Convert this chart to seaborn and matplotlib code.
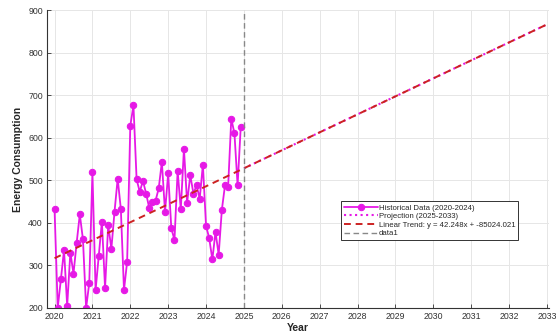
import numpy as np
import pandas as pd
import matplotlib
matplotlib.use("Agg")
import matplotlib.pyplot as plt
import seaborn as sns

# Monthly energy consumption, Jan 2020 .. Dec 2024
consumption = [
    432, 200, 267, 336, 205, 330, 281, 353, 420, 361, 200, 259,
    519, 242, 322, 403, 247, 395, 339, 426, 504, 433, 242, 309,
    628, 676, 502, 473, 499, 469, 435, 450, 452, 481, 543, 426,
    516, 387, 360, 522, 432, 574, 447, 512, 469, 488, 457, 537,
    393, 364, 314, 379, 325, 430, 488, 485, 645, 610, 488, 626,
]
start_year = 2020
end_year = 2033
split_year = 2025

# Fitted linear trend coefficients (as reported in the legend)
slope = 42.248
intercept = -85024.021

x_ticks = list(range(2020, 2034))
y_ticks = list(range(200, 1000, 100))

months = np.arange(len(consumption))
hist = pd.DataFrame({"Year": start_year + months / 12.0,
                     "Energy": consumption})
proj_years = np.arange(split_year, end_year + 1)
proj = pd.DataFrame({"Year": proj_years,
                     "Energy": slope * proj_years + intercept})
trend_years = np.array([start_year, end_year])
trend = pd.DataFrame({"Year": trend_years,
                      "Energy": slope * trend_years + intercept})

sns.set_theme(style="whitegrid")
plt.rcParams["font.family"] = ["Liberation Sans", "DejaVu Sans"]

fig = plt.figure(figsize=(5.56, 3.35), dpi=100)
ax = fig.add_axes([0.0845, 0.0806, 0.9025, 0.8894])

magenta = "#e619e6"
sns.lineplot(data=hist, x="Year", y="Energy", ax=ax, color=magenta,
             linewidth=1.3, marker="o", markersize=4.6, markeredgecolor=magenta,
             estimator=None, sort=False, label="Historical Data (2020-2024)")
sns.lineplot(data=proj, x="Year", y="Energy", ax=ax, color=magenta,
             linewidth=1.5, linestyle=":", estimator=None, sort=False,
             label="Projection (2025-2033)")
sns.lineplot(data=trend, x="Year", y="Energy", ax=ax, color="#cc2222",
             linewidth=1.4, linestyle=(0, (3.5, 2.5)), estimator=None, sort=False,
             label=f"Linear Trend: y = {slope:.3f}x + {intercept:.3f}")
ax.axvline(split_year, color="#888888", linewidth=1.0, linestyle=(0, (4, 2.5)),
           label="data1")

ax.set_xlim(2019.8, 2033.05)
ax.set_ylim(200, 900)
ax.set_xticks(x_ticks)
ax.set_yticks(y_ticks)

ax.grid(True, color="#e6e6e6", linewidth=0.7)
ax.set_facecolor("white")
for side in ("top", "right"):
    ax.spines[side].set_visible(False)
for side in ("left", "bottom"):
    ax.spines[side].set_visible(True)
    ax.spines[side].set_color("#333333")
    ax.spines[side].set_linewidth(0.8)

ax.tick_params(axis="both", direction="in", length=3, width=0.6,
               colors="#333333", labelsize=6.3, labelcolor="#333333", pad=3)
ax.tick_params(axis="x", bottom=True)
ax.tick_params(axis="y", left=True)

ax.set_xlabel("Year", fontsize=7.5, fontweight="bold", labelpad=1)
ax.set_ylabel("Energy Consumption", fontsize=7.5, fontweight="bold", labelpad=4)

leg = ax.legend(loc="lower left", bbox_to_anchor=(0.586, 0.228),
                fontsize=5.6, frameon=True, fancybox=False, framealpha=1,
                edgecolor="#333333", handlelength=4.4, handletextpad=0.1,
                borderpad=0.35, labelspacing=0.15, borderaxespad=0)
leg.get_frame().set_linewidth(0.7)

fig.savefig("out.png", dpi=100)
